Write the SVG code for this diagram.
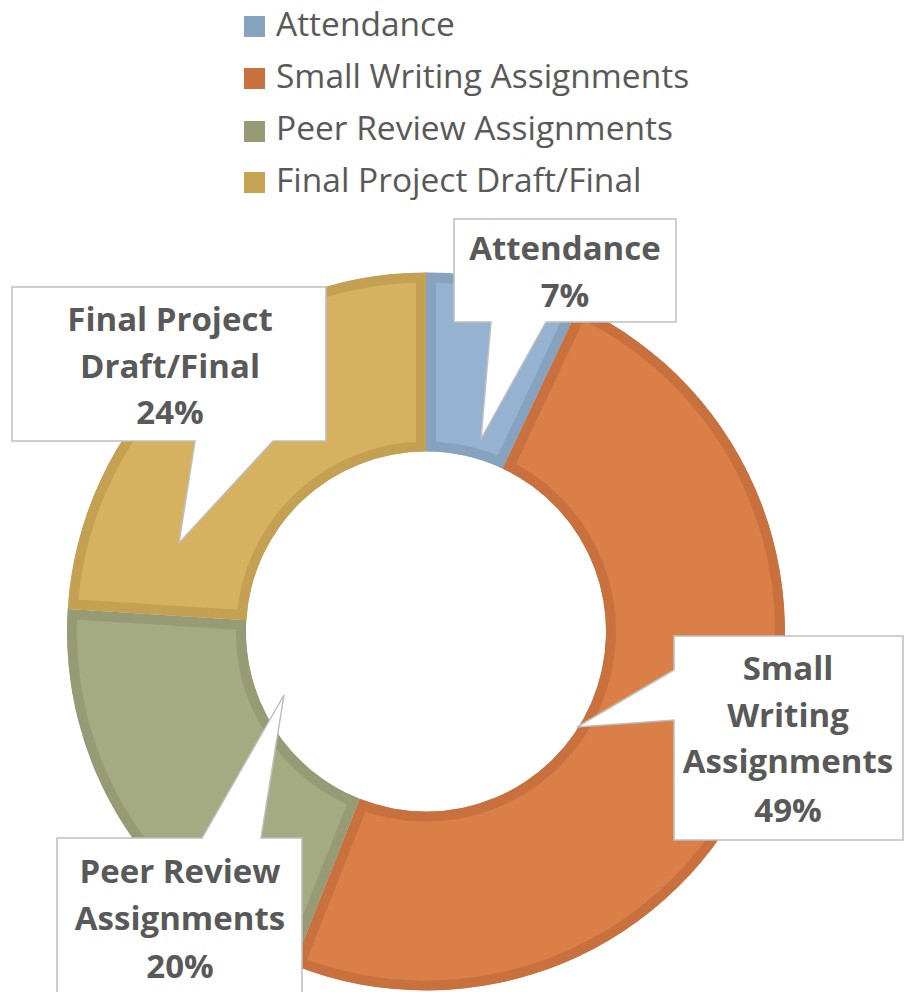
<svg xmlns="http://www.w3.org/2000/svg" width="907" height="992" viewBox="0 0 907 992">
<style>
.leg{font-family:"Open Sans","Noto Sans","Liberation Sans",sans-serif;font-size:33.5px;fill:#595959}
.lbl{font-family:"Open Sans","Noto Sans","Liberation Sans",sans-serif;font-size:33px;font-weight:bold;fill:#595959;text-anchor:middle}
.callout{fill:#FFFFFF;stroke:#BFBFBF;stroke-width:1.5}
.slice{stroke-width:20}
</style>
<defs>
<path id="pA" d="M426,272.5 A359,359 0 0 1 578.85,306.67 L502.64,468.63 A180,180 0 0 0 426,451.5 Z"/>
<path id="pS" d="M578.85,306.67 A359,359 0 0 1 293.84,965.29 L359.74,798.86 A180,180 0 0 0 502.64,468.63 Z"/>
<path id="pP" d="M293.84,965.29 A359,359 0 0 1 67.71,608.96 L246.35,620.2 A180,180 0 0 0 359.74,798.86 Z"/>
<path id="pF" d="M67.71,608.96 A359,359 0 0 1 426,272.5 L426,451.5 A180,180 0 0 0 246.35,620.2 Z"/>
<clipPath id="cA"><use href="#pA"/></clipPath>
<clipPath id="cS"><use href="#pS"/></clipPath>
<clipPath id="cP"><use href="#pP"/></clipPath>
<clipPath id="cF"><use href="#pF"/></clipPath>
</defs>
<g id="legend">
<rect x="244" y="16" width="21" height="21" fill="#86A3BF"/>
<text class="leg" x="276" y="36">Attendance</text>
<rect x="244" y="68" width="21" height="21" fill="#C8733F"/>
<text class="leg" x="276" y="88">Small Writing Assignments</text>
<rect x="244" y="121" width="21" height="21" fill="#979B75"/>
<text class="leg" x="276" y="140">Peer Review Assignments</text>
<rect x="244" y="172" width="21" height="21" fill="#C7A354"/>
<text class="leg" x="276" y="192">Final Project Draft/Final</text>
</g>
<g id="ring">
<g id="slice-attendance"><use href="#pA" class="slice" fill="#95B3D0" stroke="#86A2BE" clip-path="url(#cA)"/></g>
<g id="slice-small-writing"><use href="#pS" class="slice" fill="#DA7F47" stroke="#C8713E" clip-path="url(#cS)"/></g>
<g id="slice-peer-review"><use href="#pP" class="slice" fill="#A4AB82" stroke="#969B75" clip-path="url(#cP)"/></g>
<g id="slice-final-project"><use href="#pF" class="slice" fill="#D6B15F" stroke="#C4A053" clip-path="url(#cF)"/></g>
</g>
<g id="label-attendance">
<path class="callout" d="M454,219 H676 V322 H546 L481,439 L491,322 H454 Z"/>
<text class="lbl" x="565" y="260">Attendance</text>
<text class="lbl" x="565" y="307">7%</text>
</g>
<g id="label-final-project">
<path class="callout" d="M12,287 H326 V441 H273 L179,543 L195,441 H12 Z"/>
<text class="lbl" x="170" y="331">Final Project</text>
<text class="lbl" x="170" y="378">Draft/Final</text>
<text class="lbl" x="170" y="424">24%</text>
</g>
<g id="label-small-writing">
<path class="callout" d="M674,636 H903 V840 H674 V720 L577,727 L674,670 Z"/>
<text class="lbl" x="788" y="680">Small</text>
<text class="lbl" x="788" y="727">Writing</text>
<text class="lbl" x="788" y="773">Assignments</text>
<text class="lbl" x="788" y="822">49%</text>
</g>
<g id="label-peer-review">
<path class="callout" d="M57,838 H202 L284,695 L261,838 H302 V1000 H57 Z"/>
<text class="lbl" x="180" y="883">Peer Review</text>
<text class="lbl" x="180" y="930">Assignments</text>
<text class="lbl" x="180" y="978">20%</text>
</g>
</svg>
